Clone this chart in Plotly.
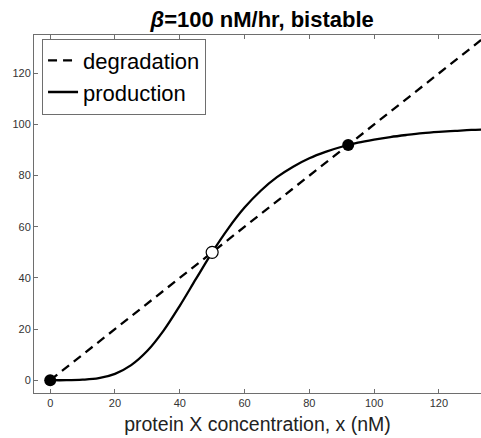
import plotly.graph_objects as go

# Values
x_prod = [0, 5, 10, 15, 20, 25, 30, 35, 40, 45, 50, 55, 60, 65, 70, 75, 80, 85,
          90, 95, 100, 105, 110, 115, 120, 125, 130, 135]
y_prod = [0.0, 0.0, 0.2, 0.8, 2.5, 5.9, 11.5, 19.4, 29.1, 39.6, 50.0, 59.4, 67.5,
          74.1, 79.4, 83.5, 86.8, 89.3, 91.3, 92.9, 94.1, 95.1, 95.9, 96.6, 97.1,
          97.5, 97.9, 98.1]
x_deg = [0, 140]
y_deg = [0, 140]
stable_x = [0, 92]
stable_y = [0, 92]
unstable_x = [50]
unstable_y = [50]
x_ticks = [0, 20, 40, 60, 80, 100, 120]
y_ticks = [0, 20, 40, 60, 80, 100, 120]

fig = go.Figure()
fig.add_trace(go.Scatter(x=x_deg, y=y_deg, mode="lines", name="degradation",
                         line=dict(color="black", width=2.3, dash="9px,6px")))
fig.add_trace(go.Scatter(x=x_prod, y=y_prod, mode="lines", name="production",
                         line=dict(color="black", width=2.3, shape="spline")))
fig.add_trace(go.Scatter(x=stable_x, y=stable_y, mode="markers", showlegend=False,
                         marker=dict(color="black", size=12)))
fig.add_trace(go.Scatter(x=unstable_x, y=unstable_y, mode="markers", showlegend=False,
                         marker=dict(color="white", size=12,
                                     line=dict(color="black", width=1.2))))

axis_common = dict(showgrid=False, zeroline=False, showline=True, linecolor="#6e6e6e",
                   linewidth=1, ticks="inside", ticklen=4, tickcolor="#6e6e6e",
                   tickfont=dict(family="Liberation Sans", size=11, color="#333"))
fig.update_xaxes(range=[-5, 133], tickvals=x_ticks, mirror="ticks",
                 title=dict(text="protein X concentration, x (nM)",
                            font=dict(family="Liberation Sans", size=19.5, color="#222"),
                            standoff=9),
                 **axis_common)
fig.update_yaxes(range=[-5, 135], tickvals=y_ticks, **axis_common)

fig.update_layout(
    width=481, height=438,
    margin=dict(l=34, r=0, t=35, b=45),
    plot_bgcolor="white", paper_bgcolor="white",
    title=dict(text="<b><i>β</i>=100 nM/hr, bistable</b>", x=0.545, xanchor="center",
               y=0.957, yanchor="middle",
               font=dict(family="Liberation Sans", size=22, color="black")),
    legend=dict(x=0.018, y=0.99, xanchor="left", yanchor="top",
                bordercolor="#6e6e6e", borderwidth=1, bgcolor="white",
                font=dict(family="Liberation Sans", size=22, color="black"),
                tracegroupgap=0),
)

fig.write_html("out.html")
